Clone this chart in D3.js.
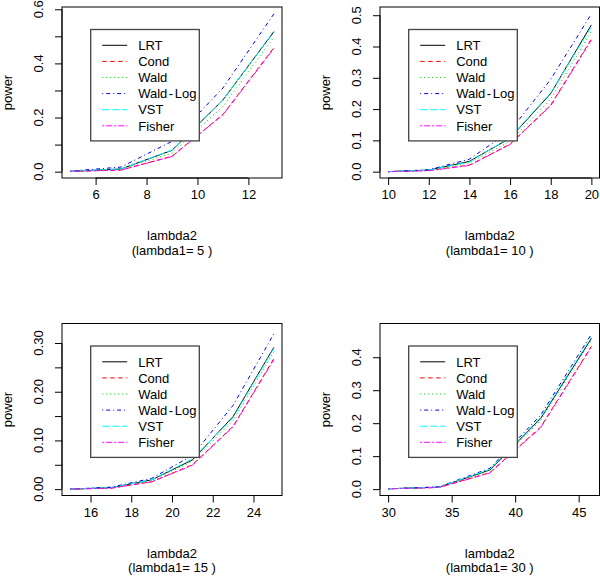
<!DOCTYPE html>
<html>
<head>
<meta charset="utf-8">
<script src="https://cdn.jsdelivr.net/npm/d3@7"></script>
<style>
  body { margin: 0; background: #fff; }
  svg { display: block; }
  text { font-family: "Liberation Sans", Arial, Helvetica, sans-serif; font-size: 13px; fill: #000; }
</style>
</head>
<body>
<svg id="chart"></svg>
<script>
// values
const lambda1 = [5, 10, 15, 30];
const lambda2 = [
  [5, 7, 9, 11, 13],
  [10, 12, 14, 16, 18, 20],
  [15, 17, 19, 21, 23, 25],
  [30, 34, 38, 42, 46]
];
const tests = ["LRT", "Cond", "Wald", "Wald-Log", "VST", "Fisher"];

const power_lrt = [
  [0.001, 0.010, 0.079, 0.265, 0.517],
  [0.000, 0.005, 0.033, 0.107, 0.250, 0.469],
  [0.000, 0.003, 0.019, 0.060, 0.149, 0.291],
  [0.001, 0.006, 0.058, 0.214, 0.457]
];
const power_cond = [
  [0.001, 0.006, 0.057, 0.211, 0.458],
  [0.000, 0.004, 0.021, 0.088, 0.213, 0.424],
  [0.000, 0.002, 0.015, 0.050, 0.129, 0.268],
  [0.001, 0.005, 0.050, 0.188, 0.433]
];
const power_wald = [
  [0.001, 0.008, 0.069, 0.241, 0.497],
  [0.000, 0.004, 0.028, 0.097, 0.232, 0.448],
  [0.000, 0.003, 0.017, 0.057, 0.141, 0.282],
  [0.001, 0.006, 0.056, 0.208, 0.452]
];
const power_waldlog = [
  [0.002, 0.017, 0.112, 0.309, 0.583],
  [0.000, 0.006, 0.040, 0.130, 0.295, 0.504],
  [0.000, 0.004, 0.022, 0.069, 0.172, 0.319],
  [0.001, 0.007, 0.063, 0.224, 0.470]
];
const power_vst = [
  [0.001, 0.010, 0.080, 0.264, 0.519],
  [0.000, 0.005, 0.031, 0.109, 0.252, 0.463],
  [0.000, 0.003, 0.019, 0.062, 0.147, 0.289],
  [0.001, 0.006, 0.060, 0.217, 0.461]
];
const power_fisher = [
  [0.001, 0.006, 0.056, 0.210, 0.455],
  [0.000, 0.003, 0.020, 0.087, 0.211, 0.421],
  [0.000, 0.002, 0.015, 0.049, 0.128, 0.266],
  [0.001, 0.005, 0.049, 0.186, 0.431]
];

// axis limits and ticks per panel
const x_lim = [[5, 13], [10, 20], [15, 25], [30, 46]];
const y_lim = [[0, 0.585], [0, 0.506], [0, 0.327], [0, 0.483]];
const x_ticks = [[6, 8, 10, 12], [10, 12, 14, 16, 18, 20], [16, 18, 20, 22, 24], [30, 35, 40, 45]];
const y_ticks = [
  [0, 0.1, 0.2, 0.3, 0.4, 0.5, 0.6],
  [0, 0.1, 0.2, 0.3, 0.4, 0.5],
  [0, 0.05, 0.1, 0.15, 0.2, 0.25, 0.3],
  [0, 0.1, 0.2, 0.3, 0.4]
];
const y_labels = [
  ["0.0", "", "0.2", "", "0.4", "", "0.6"],
  ["0.0", "0.1", "0.2", "0.3", "0.4", "0.5"],
  ["0.00", "", "0.10", "", "0.20", "", "0.30"],
  ["0.0", "0.1", "0.2", "0.3", "0.4"]
];

const series_power = [power_lrt, power_cond, power_wald, power_waldlog, power_vst, power_fisher];
const series_col = ["#000000", "#ff0000", "#00cd00", "#0000ff", "#00ffff", "#ff00ff"];
const series_dash = [null, "4.5,3.5", "1,3", "1,3,4,3", "7,3", "2,2,6,2"];

// plot boxes: [left, right, top, bottom]
const boxes = [
  [62, 282, 7, 178],
  [380, 599.5, 7, 178],
  [62, 282, 323.5, 495.5],
  [380, 599.5, 323.5, 495.5]
];

var svg = d3.select("#chart").attr("width", 600).attr("height", 576);

function expand(lim) {
  let d = (lim[1] - lim[0]) * 0.04;
  return [lim[0] - d, lim[1] + d];
}

// R draws the hyphen as a wider minus, so pad it a little
function legend_text(sel, name) {
  let parts = name.split("-");
  if (parts.length === 1) {
    sel.text(name);
    return;
  }
  sel.append("tspan").text(parts[0]);
  sel.append("tspan").attr("dx", 1.5).text("-");
  sel.append("tspan").attr("dx", 1.5).text(parts[1]);
}

function draw_panel(p) {
  let b = boxes[p];
  let x = d3.scaleLinear().domain(expand(x_lim[p])).range([b[0], b[1]]);
  let y = d3.scaleLinear().domain(expand(y_lim[p])).range([b[3], b[2]]);

  let g = svg.append("g");

  // lines
  let line = d3.line()
               .x(function(d) { return x(d[0]); })
               .y(function(d) { return y(d[1]); });

  for (var s = 0; s < tests.length; s++) {
    let pts = lambda2[p].map((v, i) => [v, series_power[s][p][i]]);
    g.append("path")
     .attr("d", line(pts))
     .attr("fill", "none")
     .attr("stroke", series_col[s])
     .attr("stroke-width", 1)
     .attr("stroke-dasharray", series_dash[s]);
  }

  // box
  g.append("rect")
   .attr("x", b[0]).attr("y", b[2])
   .attr("width", b[1] - b[0]).attr("height", b[3] - b[2])
   .attr("fill", "none").attr("stroke", "#000").attr("stroke-width", 1);

  // x axis
  let xa = d3.axisBottom(x).tickValues(x_ticks[p]).tickSize(7).tickPadding(5).tickFormat(d3.format("d"));
  let xg = g.append("g").attr("transform", "translate(0," + b[3] + ")").call(xa);
  xg.select(".domain").attr("d", "M" + x(x_ticks[p][0]) + ",0H" + x(x_ticks[p][x_ticks[p].length - 1]));
  xg.selectAll("text").attr("font-size", 13).attr("font-family", null);

  // y axis, labels rotated like R
  let ya = d3.axisLeft(y).tickValues(y_ticks[p]).tickSize(7).tickFormat("");
  let yg = g.append("g").attr("transform", "translate(" + b[0] + ",0)").call(ya);
  yg.select(".domain").attr("d", "M0," + y(y_ticks[p][0]) + "V" + y(y_ticks[p][y_ticks[p].length - 1]));

  y_ticks[p].forEach(function(t, i) {
    if (y_labels[p][i] === "") return;
    g.append("text")
     .attr("transform", "translate(" + (b[0] - 19) + "," + y(t) + ") rotate(-90)")
     .attr("text-anchor", "middle")
     .text(y_labels[p][i]);
  });

  // axis titles
  let cx = (b[0] + b[1]) / 2;
  g.append("text").attr("x", cx).attr("y", b[3] + 62).attr("text-anchor", "middle").text("lambda2");
  g.append("text").attr("x", cx).attr("y", b[3] + 76.5).attr("text-anchor", "middle")
   .text("(lambda1= " + lambda1[p] + " )");
  let cy = (b[2] + b[3]) / 2;
  g.append("text")
   .attr("transform", "translate(" + (b[0] - 50) + "," + cy + ") rotate(-90)")
   .attr("text-anchor", "middle")
   .text("power");

  // legend
  let lx = b[0] + 28.7, ly = b[2] + 22.5;
  g.append("rect")
   .attr("x", lx).attr("y", ly).attr("width", 108.6).attr("height", 111.4)
   .attr("fill", "#fff").attr("stroke", "#444").attr("stroke-width", 1.3);

  tests.forEach(function(name, s) {
    let yy = ly + 15.8 + s * 16.1;
    g.append("line")
     .attr("x1", lx + 11.5).attr("x2", lx + 36.5).attr("y1", yy).attr("y2", yy)
     .attr("stroke", series_col[s]).attr("stroke-width", 1)
     .attr("stroke-dasharray", series_dash[s]);
    let t = g.append("text")
     .attr("x", lx + 47.5).attr("y", yy + 4.7);
    legend_text(t, name);
  });
}

for (var p = 0; p < 4; p++) {
  draw_panel(p);
}
</script>
</body>
</html>
